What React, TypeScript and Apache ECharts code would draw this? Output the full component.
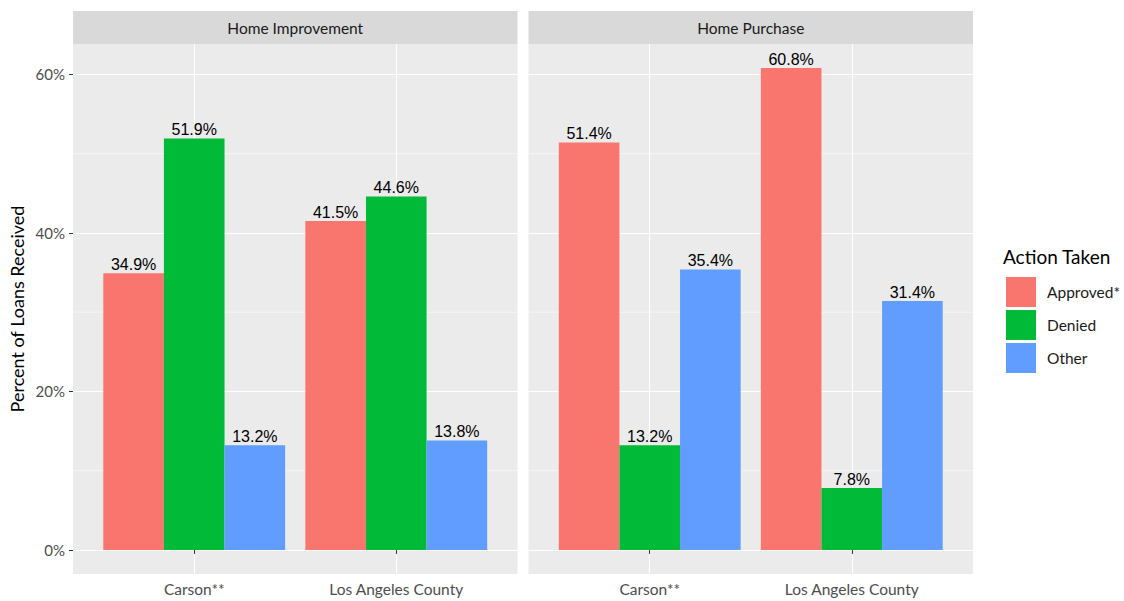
import React, { useEffect, useRef } from "react";
import * as echarts from "echarts";

const categories = ["Carson**", "Los Angeles County"];
const panels = ["Home Improvement", "Home Purchase"];
const actions = ["Approved*", "Denied", "Other"];
const colors = ["#F8766D", "#00BA38", "#619CFF"];

// values per panel, per action, per category
const improvementApproved = [34.9, 41.5];
const improvementDenied = [51.9, 44.6];
const improvementOther = [13.2, 13.8];
const purchaseApproved = [51.4, 60.8];
const purchaseDenied = [13.2, 7.8];
const purchaseOther = [35.4, 31.4];

const yTicks = [0, 20, 40, 60];
const yMinor = [10, 30, 50];

const panelValues = [
  [improvementApproved, improvementDenied, improvementOther],
  [purchaseApproved, purchaseDenied, purchaseOther],
];

const FONT = "Lato";

export default function App() {
  const ref = useRef<HTMLDivElement>(null);
  useEffect(() => {
    const chart = echarts.init(ref.current!, null, { renderer: "svg" });
    const gridLeft = [73, 528.5];
    const gridW = 444.5;
    const gridTop = 44;
    const gridH = 530;
    const yMin = -3.04;
    const yMax = 63.84;

    const series: any[] = [];
    panelValues.forEach((vals, p) => {
      series.push({
        type: "custom",
        xAxisIndex: p,
        yAxisIndex: p,
        z: 1,
        silent: true,
        data: yMinor.map((v) => [v]),
        renderItem: (params: any, api: any) => {
          const v = api.value(0);
          const a = api.coord([0.4, v]);
          const b = api.coord([2.6, v]);
          return {
            type: "line",
            shape: { x1: a[0], y1: a[1], x2: b[0], y2: b[1] },
            style: { stroke: "#FFFFFF", lineWidth: 0.55 },
          };
        },
      });
      vals.forEach((arr, a) => {
        series.push({
          type: "bar",
          name: actions[a],
          xAxisIndex: p,
          yAxisIndex: p,
          z: 2,
          barGap: "0%",
          barCategoryGap: "10%",
          itemStyle: { color: colors[a] },
          data: arr.map((v, i) => [i + 1, v]),
          label: {
            show: true,
            position: "top",
            distance: 1,
            formatter: (d: any) => `${d.value[1]}%`,
            fontFamily: "Liberation Sans, Arial, sans-serif",
            fontSize: 16,
            color: "#000000",
          },
        });
      });
    });

    const graphics: any[] = [];
    panels.forEach((name, p) => {
      graphics.push({
        type: "rect",
        z: -1,
        shape: { x: gridLeft[p], y: 11, width: gridW, height: gridTop - 11 },
        style: { fill: "#D9D9D9" },
      });
      graphics.push({
        type: "text",
        x: gridLeft[p] + gridW / 2,
        y: (11 + gridTop) / 2,
        style: {
          text: name,
          fill: "#1A1A1A",
          font: `15.5px ${FONT}`,
          textAlign: "center",
          textVerticalAlign: "middle",
        },
      });
    });

    chart.setOption({
      animation: false,
      backgroundColor: "#FFFFFF",
      title: {
        text: "Action Taken",
        left: 1003,
        top: 247,
        padding: 0,
        textStyle: { fontFamily: FONT, fontSize: 19, fontWeight: "normal", color: "#000000" },
      },
      legend: {
        data: actions,
        orient: "vertical",
        left: 1006,
        top: 277,
        padding: 0,
        itemWidth: 30,
        itemHeight: 30,
        itemGap: 3,
        icon: "rect",
        selectedMode: false,
        textStyle: { fontFamily: FONT, fontSize: 15.5, color: "#1A1A1A", padding: [0, 0, 0, 6] },
      },
      grid: gridLeft.map((l) => ({
        left: l,
        top: gridTop,
        width: gridW,
        height: gridH,
        show: true,
        backgroundColor: "#EBEBEB",
        borderWidth: 0,
        containLabel: false,
      })),
      xAxis: gridLeft.map((_, p) => ({
        type: "value",
        gridIndex: p,
        min: 0.4,
        max: 2.6,
        axisLine: { show: false },
        axisTick: { show: true, customValues: [1, 2], length: 4, lineStyle: { color: "#333333", width: 1 } },
        axisLabel: {
          customValues: [1, 2],
          formatter: (v: number) => categories[Math.round(v) - 1] ?? "",
          fontFamily: FONT,
          fontSize: 15.5,
          color: "#4D4D4D",
          margin: 7,
        },
        splitLine: { show: true, lineStyle: { color: "#FFFFFF", width: 1.1 } },
      })),
      yAxis: gridLeft.map((_, p) => ({
        type: "value",
        gridIndex: p,
        min: yMin,
        max: yMax,
        name: p === 0 ? "Percent of Loans Received" : "",
        nameLocation: "middle",
        nameGap: 47,
        nameTextStyle: { fontFamily: FONT, fontSize: 18, color: "#000000" },
        axisLine: { show: false },
        axisTick: { show: p === 0, customValues: yTicks, length: 4, lineStyle: { color: "#333333", width: 1 } },
        axisLabel: {
          show: p === 0,
          customValues: yTicks,
          formatter: (v: number) => `${v}%`,
          fontFamily: FONT,
          fontSize: 15,
          color: "#4D4D4D",
          margin: 8,
        },
        splitLine: { show: true, lineStyle: { color: "#FFFFFF", width: 1.1 } },
      })),
      graphic: graphics,
      series,
    });
    return () => chart.dispose();
  }, []);
  return (
    <div
      ref={ref}
      style={{ position: "fixed", left: 0, top: 0, width: 1124, height: 601, background: "#fff" }}
    />
  );
}
